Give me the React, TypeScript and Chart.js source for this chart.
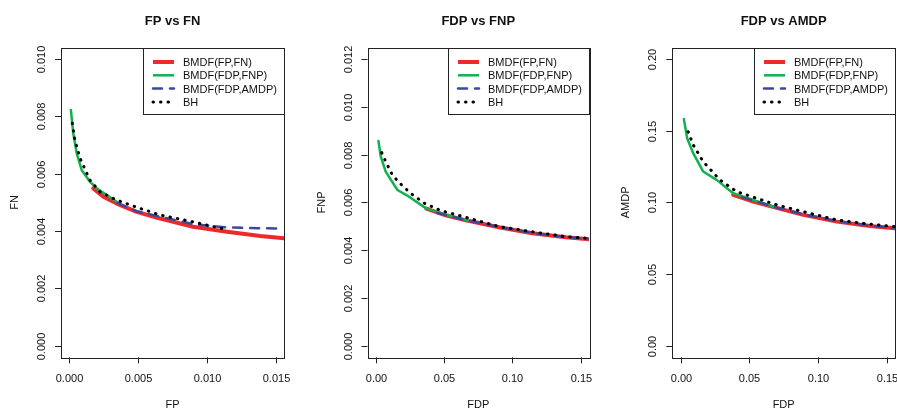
import React, { useEffect, useRef } from "react";
import { Chart, registerables } from "chart.js";

Chart.register(...registerables);

// ---------- Labels ----------
const seriesNames = ["BMDF(FP,FN)", "BMDF(FDP,FNP)", "BMDF(FDP,AMDP)", "BH"];

// ---------- Panel 1: FP vs FN ----------
const p1Title = "FP vs FN";
const p1XLabel = "FP";
const p1YLabel = "FN";
const p1XTicks = [0, 0.005, 0.01, 0.015];
const p1XTickLabels = ["0.000", "0.005", "0.010", "0.015"];
const p1YTicks = [0, 0.002, 0.004, 0.006, 0.008, 0.01];
const p1YTickLabels = ["0.000", "0.002", "0.004", "0.006", "0.008", "0.010"];

const p1FpfnX = [0.00175, 0.00248, 0.00345, 0.0049, 0.0066, 0.009, 0.01146, 0.01388, 0.0156];
const p1FpfnY = [0.00549, 0.0052, 0.00496, 0.00467, 0.00444, 0.00415, 0.00398, 0.00383, 0.00375];
const p1FdpfnpX = [0.00012, 0.00029, 0.00054, 0.0009, 0.0015, 0.002, 0.00272, 0.00345];
const p1FdpfnpY = [0.00822, 0.00741, 0.00671, 0.00613, 0.00572, 0.00549, 0.00526, 0.00502];
const p1FdpamdpX = [0.0035, 0.0049, 0.0066, 0.009, 0.01024, 0.01146, 0.01388, 0.0156];
const p1FdpamdpY = [0.00498, 0.00469, 0.0045, 0.00424, 0.00418, 0.00413, 0.0041, 0.00409];
const p1BhX = [0.00022, 0.00041, 0.00078, 0.0015, 0.00223, 0.00345, 0.0049, 0.0066, 0.009, 0.01109];
const p1BhY = [0.00776, 0.00717, 0.00654, 0.00578, 0.00537, 0.00508, 0.00483, 0.00456, 0.00432, 0.00409];

// ---------- Panel 2: FDP vs FNP ----------
const p2Title = "FDP vs FNP";
const p2XLabel = "FDP";
const p2YLabel = "FNP";
const p2XTicks = [0, 0.05, 0.1, 0.15];
const p2XTickLabels = ["0.00", "0.05", "0.10", "0.15"];
const p2YTicks = [0, 0.002, 0.004, 0.006, 0.008, 0.01, 0.012];
const p2YTickLabels = ["0.000", "0.002", "0.004", "0.006", "0.008", "0.010", "0.012"];

const p2FpfnX = [0.037, 0.0512, 0.0659, 0.0902, 0.1146, 0.139, 0.1566];
const p2FpfnY = [0.00574, 0.00546, 0.00525, 0.00496, 0.00471, 0.00454, 0.00446];
const p2FdpfnpX = [0.002, 0.0037, 0.0073, 0.0159, 0.0244, 0.0366, 0.0512, 0.0659, 0.069];
const p2FdpfnpY = [0.00857, 0.00792, 0.00729, 0.00652, 0.00624, 0.00576, 0.00548, 0.00527, 0.00524];
const p2FdpamdpX = [0.045, 0.0659, 0.0902, 0.1146, 0.139, 0.1566];
const p2FdpamdpY = [0.00556, 0.00526, 0.00497, 0.00472, 0.00455, 0.00447];
const p2BhX = [0.0044, 0.0073, 0.0122, 0.0171, 0.0256, 0.0354, 0.0476, 0.0707, 0.0902, 0.1146, 0.139, 0.1566];
const p2BhY = [0.00808, 0.00771, 0.00715, 0.00683, 0.00638, 0.00597, 0.00566, 0.0053, 0.00499, 0.00477, 0.00457, 0.00449];

// ---------- Panel 3: FDP vs AMDP ----------
const p3Title = "FDP vs AMDP";
const p3XLabel = "FDP";
const p3YLabel = "AMDP";
const p3XTicks = [0, 0.05, 0.1, 0.15];
const p3XTickLabels = ["0.00", "0.05", "0.10", "0.15"];
const p3YTicks = [0, 0.05, 0.1, 0.15, 0.2];
const p3YTickLabels = ["0.00", "0.05", "0.10", "0.15", "0.20"];

const p3FpfnX = [0.0383, 0.0529, 0.0699, 0.0893, 0.1136, 0.1378, 0.1556];
const p3FpfnY = [0.1053, 0.1005, 0.0962, 0.0913, 0.0866, 0.0836, 0.0819];
const p3FdpfnpX = [0.0024, 0.0048, 0.0092, 0.0165, 0.0262, 0.0383, 0.0529, 0.0687];
const p3FdpfnpY = [0.1582, 0.1447, 0.1343, 0.1215, 0.1157, 0.1064, 0.1017, 0.0966];
const p3FdpamdpX = [0.045, 0.0699, 0.0893, 0.1136, 0.1378, 0.1556];
const p3FdpamdpY = [0.1035, 0.0965, 0.0917, 0.087, 0.0838, 0.0821];
const p3BhX = [0.0055, 0.0092, 0.0165, 0.0286, 0.0408, 0.0553, 0.0699, 0.0893, 0.1136, 0.1378, 0.1556];
const p3BhY = [0.1493, 0.1401, 0.1284, 0.1157, 0.1075, 0.1029, 0.0983, 0.0935, 0.0878, 0.0848, 0.0832];

// ---------- Styles ----------
const FONT = '"Liberation Sans", Arial, Helvetica, sans-serif';
const styles = [
  { color: "#ec2a2e", width: 4, dash: [] as number[], order: 4 },
  { color: "#12b04f", width: 2.5, dash: [] as number[], order: 3 },
  { color: "#3c479e", width: 2.5, dash: [9, 8], order: 2 },
  { color: "#000000", width: 3, dash: [0.5, 7], order: 1 },
];

type PanelProps = {
  left: number;
  width: number;
  padLeft: number;
  padRight: number;
  title: string;
  xLabel: string;
  yLabel: string;
  xTicks: number[];
  xTickLabels: string[];
  yTicks: number[];
  yTickLabels: string[];
  xMin: number;
  xMax: number;
  yMin: number;
  yMax: number;
  xs: number[][];
  ys: number[][];
};

const HEIGHT = 410;
const PAD_TOP = 47.5;
const PAD_BOTTOM = 52.7;

function makePlugin(p: PanelProps) {
  return {
    id: "rstyle",
    afterDatasetsDraw(chart: any) {
      const { ctx, chartArea: a, scales } = chart;
      const xs = scales.x;
      const ys = scales.y;
      ctx.save();
      ctx.setLineDash([]);
      ctx.strokeStyle = "#222";
      ctx.fillStyle = "#111";
      ctx.lineWidth = 1;
      // plot box
      ctx.strokeRect(Math.round(a.left) + 0.5, Math.round(a.top) + 0.5, Math.round(a.right - a.left), Math.round(a.bottom - a.top));
      // x ticks
      ctx.font = `11px ${FONT}`;
      ctx.textAlign = "center";
      ctx.textBaseline = "alphabetic";
      p.xTicks.forEach((v, i) => {
        const px = Math.round(xs.getPixelForValue(v)) + 0.5;
        ctx.beginPath();
        ctx.moveTo(px, a.bottom);
        ctx.lineTo(px, a.bottom + 6);
        ctx.stroke();
        ctx.fillText(p.xTickLabels[i], px, a.bottom + 25);
      });
      // y ticks
      p.yTicks.forEach((v, i) => {
        const py = Math.round(ys.getPixelForValue(v)) + 0.5;
        ctx.beginPath();
        ctx.moveTo(a.left, py);
        ctx.lineTo(a.left - 6, py);
        ctx.stroke();
        ctx.save();
        ctx.translate(a.left - 16, py);
        ctx.rotate(-Math.PI / 2);
        ctx.fillText(p.yTickLabels[i], 0, 0);
        ctx.restore();
      });
      // axis titles
      ctx.fillText(p.xLabel, (a.left + a.right) / 2, a.bottom + 51);
      ctx.save();
      ctx.translate(a.left - 43, (a.top + a.bottom) / 2);
      ctx.rotate(-Math.PI / 2);
      ctx.fillText(p.yLabel, 0, 0);
      ctx.restore();
      // main title
      ctx.font = `bold 13px ${FONT}`;
      ctx.fillText(p.title, (a.left + a.right) / 2, 25);
      // legend
      const lw = 141;
      const lh = 66;
      const lx = Math.round(a.right - lw);
      const ly = Math.round(a.top);
      ctx.fillStyle = "#fff";
      ctx.fillRect(lx, ly, lw, lh);
      ctx.strokeStyle = "#222";
      ctx.lineWidth = 1;
      ctx.strokeRect(lx + 0.5, ly + 0.5, lw, lh);
      ctx.font = `11px ${FONT}`;
      ctx.textAlign = "left";
      seriesNames.forEach((name, i) => {
        const s = styles[i];
        const cy = ly + 14 + i * 13.3;
        ctx.save();
        ctx.strokeStyle = s.color;
        ctx.lineWidth = s.width;
        ctx.lineCap = s.dash.length ? "round" : "butt";
        ctx.setLineDash(s.dash);
        ctx.beginPath();
        ctx.moveTo(lx + 10, cy);
        ctx.lineTo(lx + 31, cy);
        ctx.stroke();
        ctx.restore();
        ctx.fillStyle = "#111";
        ctx.fillText(name, lx + 40, cy + 4);
      });
      ctx.restore();
    },
  };
}

function Panel(p: PanelProps) {
  const ref = useRef<HTMLCanvasElement | null>(null);
  useEffect(() => {
    if (!ref.current) return;
    const chart = new Chart(ref.current, {
      type: "line",
      data: {
        datasets: seriesNames.map((name, i) => ({
          label: name,
          data: p.xs[i].map((xv, j) => ({ x: xv, y: p.ys[i][j] })),
          borderColor: styles[i].color,
          backgroundColor: styles[i].color,
          borderWidth: styles[i].width,
          borderDash: styles[i].dash,
          borderCapStyle: styles[i].dash.length ? "round" : "round",
          borderJoinStyle: "round",
          pointRadius: 0,
          fill: false,
          tension: 0,
          order: styles[i].order,
        })),
      },
      options: {
        responsive: false,
        maintainAspectRatio: false,
        animation: false,
        devicePixelRatio: 1,
        layout: { padding: { left: p.padLeft, right: p.padRight, top: PAD_TOP, bottom: PAD_BOTTOM } },
        scales: {
          x: { type: "linear", min: p.xMin, max: p.xMax, display: false },
          y: { type: "linear", min: p.yMin, max: p.yMax, display: false },
        },
        plugins: { legend: { display: false }, tooltip: { enabled: false } },
      },
      plugins: [makePlugin(p)],
    } as any);
    return () => chart.destroy();
  }, []);
  return (
    <canvas
      ref={ref}
      width={p.width}
      height={HEIGHT}
      style={{ position: "absolute", left: p.left, top: 0, width: p.width, height: HEIGHT }}
    />
  );
}

export default function App() {
  useEffect(() => {
    document.body.style.margin = "0";
  }, []);
  return (
    <div style={{ position: "absolute", left: 0, top: 0, width: 897, height: HEIGHT, background: "#fff" }}>
      <Panel
        left={0}
        width={300}
        padLeft={61}
        padRight={16}
        title={p1Title}
        xLabel={p1XLabel}
        yLabel={p1YLabel}
        xTicks={p1XTicks}
        xTickLabels={p1XTickLabels}
        yTicks={p1YTicks}
        yTickLabels={p1YTickLabels}
        xMin={-0.0006}
        xMax={0.0156}
        yMin={-0.0004}
        yMax={0.0104}
        xs={[p1FpfnX, p1FdpfnpX, p1FdpamdpX, p1BhX]}
        ys={[p1FpfnY, p1FdpfnpY, p1FdpamdpY, p1BhY]}
      />
      <Panel
        left={300}
        width={300}
        padLeft={67.5}
        padRight={11}
        title={p2Title}
        xLabel={p2XLabel}
        yLabel={p2YLabel}
        xTicks={p2XTicks}
        xTickLabels={p2XTickLabels}
        yTicks={p2YTicks}
        yTickLabels={p2YTickLabels}
        xMin={-0.006}
        xMax={0.156}
        yMin={-0.00048}
        yMax={0.01248}
        xs={[p2FpfnX, p2FdpfnpX, p2FdpamdpX, p2BhX]}
        ys={[p2FpfnY, p2FdpfnpY, p2FdpamdpY, p2BhY]}
      />
      <Panel
        left={600}
        width={297}
        padLeft={72.3}
        padRight={2}
        title={p3Title}
        xLabel={p3XLabel}
        yLabel={p3YLabel}
        xTicks={p3XTicks}
        xTickLabels={p3XTickLabels}
        yTicks={p3YTicks}
        yTickLabels={p3YTickLabels}
        xMin={-0.006}
        xMax={0.156}
        yMin={-0.008}
        yMax={0.208}
        xs={[p3FpfnX, p3FdpfnpX, p3FdpamdpX, p3BhX]}
        ys={[p3FpfnY, p3FdpfnpY, p3FdpamdpY, p3BhY]}
      />
    </div>
  );
}
